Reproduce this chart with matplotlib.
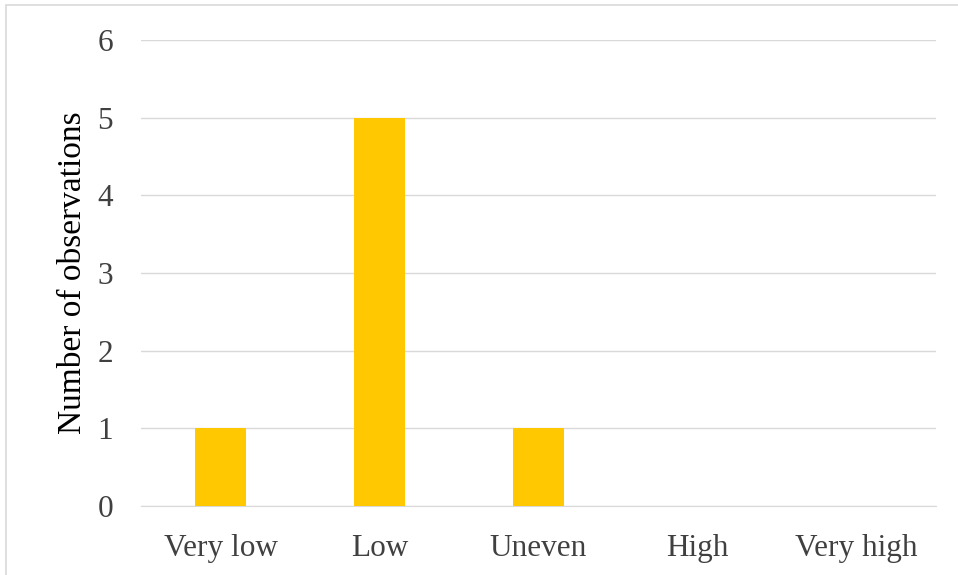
import matplotlib.pyplot as plt
from matplotlib.patches import Rectangle

categories = ['Very low', 'Low', 'Uneven', 'High', 'Very high']
observations = [1, 5, 1, 0, 0]
yticks = [0, 1, 2, 3, 4, 5, 6]

plt.rcParams['font.family'] = ['Liberation Serif', 'DejaVu Serif']

fig = plt.figure(figsize=(9.58, 5.75), dpi=100)
W, H = 958, 575
ax = fig.add_axes([141 / W, 1 - 506 / H, (936 - 141) / W, (506 - 40) / H])

# outer chart border
fig.patches.append(Rectangle((6 / W, -0.05), 1.1, 1 - 5 / H + 0.05,
                             transform=fig.transFigure, fill=False,
                             edgecolor='#d9d9d9', linewidth=1.2))

x = range(len(categories))
ax.bar(x, observations, width=0.315, color='#ffc800', zorder=3)

ax.set_xlim(-0.5, len(categories) - 0.5)
ax.set_ylim(0, 6)
ax.set_yticks(yticks)
ax.set_xticks(list(x))
ax.set_xticklabels(categories)
ax.yaxis.grid(True, color='#d9d9d9', linewidth=1)
ax.set_axisbelow(True)
for s in ['top', 'right', 'left']:
    ax.spines[s].set_visible(False)
ax.spines['bottom'].set_color('#d9d9d9')
ax.tick_params(axis='both', length=0, labelsize=22.5, colors='#404040')
ax.tick_params(axis='y', pad=20)
ax.tick_params(axis='x', pad=20)
ax.set_ylabel('Number of observations', fontsize=24, color='#000000', labelpad=7)

fig.savefig('out.png', dpi=100)
